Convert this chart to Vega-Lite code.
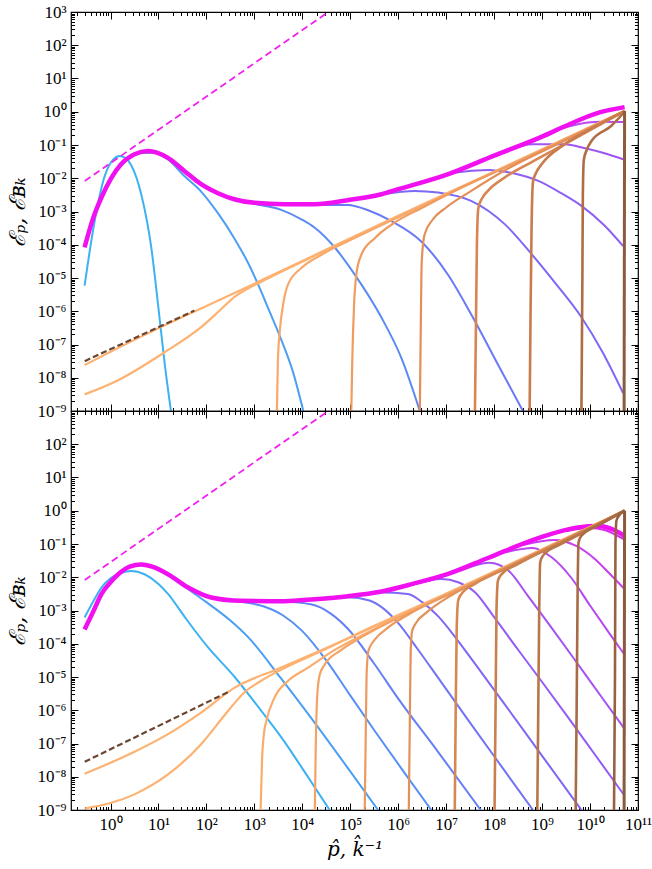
{
"$schema":"https://vega.github.io/schema/vega-lite/v6.json",
"padding":{"left":5,"top":2,"right":0,"bottom":0},
"config":{
 "view":{"stroke":"#000","strokeWidth":1.2},
 "axis":{"grid":false,"domain":false,"tickColor":"#000","tickWidth":1,"labelColor":"#000","labelFont":"Liberation Serif","labelFontSize":17,"titleColor":"#000","titleFontWeight":"normal","labelOverlap":false,"labelFlush":false,"labelBound":false,"tickCount":100}
},
"datasets":{
"top":[
{"s":"dmt","g":"dm","x":0.29,"y":0.0083},{"s":"dmt","g":"dm","x":34900,"y":1000},
{"s":"dbt","g":"db","x":0.29,"y":3.16e-8},{"s":"dbt","g":"db","x":56.2,"y":1.05e-6},
{"s":"c1","g":"b","x":0.288,"y":5.89e-6},{"s":"c1","g":"b","x":0.468,"y":5.25e-4},{"s":"c1","g":"b","x":0.741,"y":0.0105},{"s":"c1","g":"b","x":1.12,"y":0.0355},{"s":"c1","g":"b","x":1.55,"y":0.0468},{"s":"c1","g":"b","x":2.0,"y":0.0417},{"s":"c1","g":"b","x":2.69,"y":0.0251},{"s":"c1","g":"b","x":4.37,"y":3.31e-3},{"s":"c1","g":"b","x":7.08,"y":8.32e-5},{"s":"c1","g":"b","x":9.77,"y":1.66e-6},{"s":"c1","g":"b","x":13.5,"y":2.63e-8},{"s":"c1","g":"b","x":18.2,"y":1e-9},
{"s":"c2","g":"b","x":3.98,"y":0.0575},{"s":"c2","g":"b","x":7.94,"y":0.0589},{"s":"c2","g":"b","x":15.5,"y":0.0372},{"s":"c2","g":"b","x":34.7,"y":0.0117},{"s":"c2","g":"b","x":77.6,"y":3.98e-3},{"s":"c2","g":"b","x":174,"y":8.91e-4},{"s":"c2","g":"b","x":380,"y":1.58e-4},{"s":"c2","g":"b","x":741,"y":2.82e-5},{"s":"c2","g":"b","x":1202,"y":6.31e-6},{"s":"c2","g":"b","x":1995,"y":1.12e-6},{"s":"c2","g":"b","x":3631,"y":1.41e-7},{"s":"c2","g":"b","x":6310,"y":1.58e-8},{"s":"c2","g":"b","x":10500,"y":1e-9},
{"s":"c3","g":"b","x":251,"y":2.82e-3},{"s":"c3","g":"b","x":1000,"y":1.7e-3},{"s":"c3","g":"b","x":3631,"y":1.12e-3},{"s":"c3","g":"b","x":1e4,"y":5.62e-4},{"s":"c3","g":"b","x":18200,"y":3.24e-4},{"s":"c3","g":"b","x":47900,"y":8.13e-5},{"s":"c3","g":"b","x":123000,"y":1.29e-5},{"s":"c3","g":"b","x":447000,"y":6.46e-7},{"s":"c3","g":"b","x":1.15e6,"y":4.07e-8},{"s":"c3","g":"b","x":2.82e6,"y":1e-9},
{"s":"c4","g":"b","x":1e4,"y":1.58e-3},{"s":"c4","g":"b","x":89100,"y":1.58e-3},{"s":"c4","g":"b","x":251000,"y":1.05e-3},{"s":"c4","g":"b","x":724000,"y":5.13e-4},{"s":"c4","g":"b","x":3.02e6,"y":1.26e-4},{"s":"c4","g":"b","x":1.1e7,"y":1.23e-5},{"s":"c4","g":"b","x":3.31e7,"y":8.13e-7},{"s":"c4","g":"b","x":1.2e8,"y":2.51e-8},{"s":"c4","g":"b","x":3.98e8,"y":1e-9},
{"s":"c5","g":"b","x":501000,"y":3.31e-3},{"s":"c5","g":"b","x":2.19e6,"y":4.17e-3},{"s":"c5","g":"b","x":6.76e6,"y":3.72e-3},{"s":"c5","g":"b","x":3.31e7,"y":2.09e-3},{"s":"c5","g":"b","x":1.66e8,"y":4.17e-4},{"s":"c5","g":"b","x":6.03e8,"y":5.25e-5},{"s":"c5","g":"b","x":2e9,"y":6.31e-6},{"s":"c5","g":"b","x":6.61e9,"y":6.61e-7},{"s":"c5","g":"b","x":1.78e10,"y":6.31e-8},{"s":"c5","g":"b","x":4.9e10,"y":3.47e-9},
{"s":"c6","g":"b","x":6.31e6,"y":0.01},{"s":"c6","g":"b","x":1.58e7,"y":0.0148},{"s":"c6","g":"b","x":7.41e7,"y":0.0178},{"s":"c6","g":"b","x":2.51e8,"y":0.0141},{"s":"c6","g":"b","x":8.32e8,"y":8.32e-3},{"s":"c6","g":"b","x":2.51e9,"y":3.55e-3},{"s":"c6","g":"b","x":6.61e9,"y":1.48e-3},{"s":"c6","g":"b","x":2e10,"y":3.8e-4},{"s":"c6","g":"b","x":4.9e10,"y":9.12e-5},
{"s":"c7","g":"b","x":2e8,"y":0.0708},{"s":"c7","g":"b","x":6.31e8,"y":0.105},{"s":"c7","g":"b","x":2.95e9,"y":0.105},{"s":"c7","g":"b","x":7.94e9,"y":0.0794},{"s":"c7","g":"b","x":2e10,"y":0.0562},{"s":"c7","g":"b","x":4.9e10,"y":0.0372},
{"s":"c8","g":"b","x":2e9,"y":0.282},{"s":"c8","g":"b","x":6.31e9,"y":0.437},{"s":"c8","g":"b","x":1.58e10,"y":0.501},{"s":"c8","g":"b","x":4.9e10,"y":0.49},
{"s":"Mt","g":"m","x":0.288,"y":8.32e-5},{"s":"Mt","g":"m","x":0.427,"y":5.89e-4},{"s":"Mt","g":"m","x":0.646,"y":2.63e-3},{"s":"Mt","g":"m","x":1.66,"y":0.0263},{"s":"Mt","g":"m","x":3.16,"y":0.0525},{"s":"Mt","g":"m","x":6.03,"y":0.0661},{"s":"Mt","g":"m","x":15.5,"y":0.0417},{"s":"Mt","g":"m","x":34.7,"y":0.0166},{"s":"Mt","g":"m","x":77.6,"y":6.61e-3},{"s":"Mt","g":"m","x":174,"y":3.55e-3},{"s":"Mt","g":"m","x":380,"y":2.34e-3},{"s":"Mt","g":"m","x":1000,"y":1.82e-3},{"s":"Mt","g":"m","x":4266,"y":1.66e-3},{"s":"Mt","g":"m","x":18200,"y":1.66e-3},{"s":"Mt","g":"m","x":87100,"y":2.19e-3},{"s":"Mt","g":"m","x":447000,"y":3.31e-3},{"s":"Mt","g":"m","x":1e6,"y":4.68e-3},{"s":"Mt","g":"m","x":1e7,"y":0.0126},{"s":"Mt","g":"m","x":1e8,"y":0.0479},{"s":"Mt","g":"m","x":1e9,"y":0.178},{"s":"Mt","g":"m","x":3.16e9,"y":0.38},{"s":"Mt","g":"m","x":1.58e10,"y":0.955},{"s":"Mt","g":"m","x":5.25e10,"y":1.38},
{"s":"o0","g":"o","x":0.288,"y":2.4e-8},{"s":"o0","g":"o","x":1,"y":6.03e-8},{"s":"o0","g":"o","x":11.5,"y":3.39e-7},{"s":"o0","g":"o","x":100,"y":1.45e-6},{"s":"o0","g":"o","x":1000,"y":6.76e-6},{"s":"o0","g":"o","x":1e4,"y":3.24e-5},{"s":"o0","g":"o","x":1e5,"y":1.58e-4},{"s":"o0","g":"o","x":1e6,"y":7.41e-4},{"s":"o0","g":"o","x":1e7,"y":3.47e-3},{"s":"o0","g":"o","x":1e8,"y":0.0158},{"s":"o0","g":"o","x":1e9,"y":0.0741},{"s":"o0","g":"o","x":1e10,"y":0.347},{"s":"o0","g":"o","x":5.25e10,"y":1.05},
{"s":"o1","g":"o","x":0.288,"y":3.16e-9},{"s":"o1","g":"o","x":1.41,"y":8.32e-9},{"s":"o1","g":"o","x":13.5,"y":5.89e-8},{"s":"o1","g":"o","x":77.6,"y":3.31e-7},{"s":"o1","g":"o","x":204,"y":1.17e-6},{"s":"o1","g":"o","x":398,"y":2.82e-6},{"s":"o1","g":"o","x":708,"y":4.68e-6},{"s":"o1","g":"o","x":1995,"y":1e-5},{"s":"o1","g":"o","x":1e5,"y":1.48e-4},{"s":"o1","g":"o","x":1e7,"y":3.31e-3},{"s":"o1","g":"o","x":1e9,"y":0.0708},{"s":"o1","g":"o","x":5.25e10,"y":1.05},
{"s":"o2","g":"o","x":2951,"y":1e-9},{"s":"o2","g":"o","x":3090,"y":3.16e-8},{"s":"o2","g":"o","x":3388,"y":2.51e-7},{"s":"o2","g":"o","x":3981,"y":1.62e-6},{"s":"o2","g":"o","x":5012,"y":6.31e-6},{"s":"o2","g":"o","x":9550,"y":2e-5},{"s":"o2","g":"o","x":25100,"y":5.01e-5},{"s":"o2","g":"o","x":1e5,"y":1.38e-4},{"s":"o2","g":"o","x":1e6,"y":6.76e-4},{"s":"o2","g":"o","x":3.16e7,"y":7.08e-3},{"s":"o2","g":"o","x":1e9,"y":0.0708},{"s":"o2","g":"o","x":5.25e10,"y":1.05},
{"s":"o3","g":"o","x":105000,"y":1e-9},{"s":"o3","g":"o","x":110000,"y":3.16e-8},{"s":"o3","g":"o","x":120000,"y":1.58e-6},{"s":"o3","g":"o","x":135000,"y":1.41e-5},{"s":"o3","g":"o","x":170000,"y":5.01e-5},{"s":"o3","g":"o","x":324000,"y":1.58e-4},{"s":"o3","g":"o","x":851000,"y":4.68e-4},{"s":"o3","g":"o","x":3.02e6,"y":1.26e-3},{"s":"o3","g":"o","x":1.58e7,"y":4.27e-3},{"s":"o3","g":"o","x":3.16e8,"y":0.0316},{"s":"o3","g":"o","x":5.25e10,"y":1.05},
{"s":"o4","g":"o","x":2.82e6,"y":1e-9},{"s":"o4","g":"o","x":2.95e6,"y":3.16e-7},{"s":"o4","g":"o","x":3.09e6,"y":3.16e-5},{"s":"o4","g":"o","x":3.55e6,"y":2.04e-4},{"s":"o4","g":"o","x":5.25e6,"y":5.75e-4},{"s":"o4","g":"o","x":1e7,"y":1.32e-3},{"s":"o4","g":"o","x":3.16e7,"y":3.98e-3},{"s":"o4","g":"o","x":2e8,"y":0.02},{"s":"o4","g":"o","x":3.16e9,"y":0.141},{"s":"o4","g":"o","x":5.25e10,"y":1.05},
{"s":"o5","g":"od","x":3.98e7,"y":1e-9},{"s":"o5","g":"od","x":4.17e7,"y":3.16e-7},{"s":"o5","g":"od","x":4.37e7,"y":1e-4},{"s":"o5","g":"od","x":4.68e7,"y":1.26e-3},{"s":"o5","g":"od","x":5.62e7,"y":2.51e-3},{"s":"o5","g":"od","x":7.41e7,"y":4.17e-3},{"s":"o5","g":"od","x":1.66e8,"y":0.0105},{"s":"o5","g":"od","x":6.31e8,"y":0.0316},{"s":"o5","g":"od","x":3.16e9,"y":0.112},{"s":"o5","g":"od","x":5.25e10,"y":1.05},
{"s":"o6","g":"od","x":5.5e8,"y":1e-9},{"s":"o6","g":"od","x":5.75e8,"y":1e-6},{"s":"o6","g":"od","x":6.03e8,"y":3.16e-4},{"s":"o6","g":"od","x":6.46e8,"y":7.94e-3},{"s":"o6","g":"od","x":7.41e8,"y":0.0141},{"s":"o6","g":"od","x":9.77e8,"y":0.0263},{"s":"o6","g":"od","x":2.95e9,"y":0.105},{"s":"o6","g":"od","x":1.26e10,"y":0.355},{"s":"o6","g":"od","x":5.25e10,"y":1.05},
{"s":"o7","g":"od","x":6.61e9,"y":1e-9},{"s":"o7","g":"od","x":6.92e9,"y":1e-5},{"s":"o7","g":"od","x":7.08e9,"y":3.16e-3},{"s":"o7","g":"od","x":7.41e9,"y":0.0355},{"s":"o7","g":"od","x":8.51e9,"y":0.0708},{"s":"o7","g":"od","x":1.07e10,"y":0.132},{"s":"o7","g":"od","x":2.75e10,"y":0.372},{"s":"o7","g":"od","x":5.25e10,"y":1.0},
{"s":"o8","g":"of","x":5.13e10,"y":1e-9},{"s":"o8","g":"of","x":5.25e10,"y":1.05}
],
"bot":[
{"s":"dmb","g":"dm","x":0.29,"y":0.0083},{"s":"dmb","g":"dm","x":34900,"y":1000},
{"s":"dbb","g":"db","x":0.29,"y":2.82e-8},{"s":"dbb","g":"db","x":316,"y":3.8e-6},
{"s":"b1","g":"b","x":0.288,"y":6.17e-4},{"s":"b1","g":"b","x":0.447,"y":2e-3},{"s":"b1","g":"b","x":0.646,"y":4.9e-3},{"s":"b1","g":"b","x":1,"y":9.33e-3},{"s":"b1","g":"b","x":1.45,"y":0.0126},{"s":"b1","g":"b","x":2.69,"y":0.0155},{"s":"b1","g":"b","x":5.13,"y":0.0123},{"s":"b1","g":"b","x":10,"y":6.31e-3},{"s":"b1","g":"b","x":15.8,"y":3.16e-3},{"s":"b1","g":"b","x":35.5,"y":6.31e-4},{"s":"b1","g":"b","x":100,"y":8.91e-5},{"s":"b1","g":"b","x":389,"y":1e-5},{"s":"b1","g":"b","x":1000,"y":1.78e-6},{"s":"b1","g":"b","x":4266,"y":1.12e-7},{"s":"b1","g":"b","x":1e4,"y":1.78e-8},{"s":"b1","g":"b","x":37200,"y":1e-9},
{"s":"b2","g":"b","x":7.94,"y":0.0191},{"s":"b2","g":"b","x":15.8,"y":0.0115},{"s":"b2","g":"b","x":41.7,"y":4.37e-3},{"s":"b2","g":"b","x":100,"y":1.78e-3},{"s":"b2","g":"b","x":316,"y":5.01e-4},{"s":"b2","g":"b","x":741,"y":1.58e-4},{"s":"b2","g":"b","x":3631,"y":8.91e-6},{"s":"b2","g":"b","x":18200,"y":4.17e-7},{"s":"b2","g":"b","x":89100,"y":1.82e-8},{"s":"b2","g":"b","x":380000,"y":1e-9},
{"s":"b3","g":"b","x":100,"y":2.63e-3},{"s":"b3","g":"b","x":537,"y":1.82e-3},{"s":"b3","g":"b","x":1585,"y":1.32e-3},{"s":"b3","g":"b","x":3981,"y":7.08e-4},{"s":"b3","g":"b","x":1e4,"y":2.4e-4},{"s":"b3","g":"b","x":31600,"y":3.16e-5},{"s":"b3","g":"b","x":89100,"y":3.55e-6},{"s":"b3","g":"b","x":316000,"y":2.51e-7},{"s":"b3","g":"b","x":1.26e6,"y":1.51e-8},{"s":"b3","g":"b","x":4.9e6,"y":1e-9},
{"s":"b4","g":"b","x":1000,"y":1.86e-3},{"s":"b4","g":"b","x":4266,"y":1.82e-3},{"s":"b4","g":"b","x":15800,"y":1.51e-3},{"s":"b4","g":"b","x":39800,"y":7.94e-4},{"s":"b4","g":"b","x":89100,"y":2.82e-4},{"s":"b4","g":"b","x":316000,"y":2.51e-5},{"s":"b4","g":"b","x":1e6,"y":2.24e-6},{"s":"b4","g":"b","x":6.76e6,"y":5.62e-8},{"s":"b4","g":"b","x":5.25e7,"y":1e-9},
{"s":"b5","g":"b","x":1e4,"y":2.04e-3},{"s":"b5","g":"b","x":89100,"y":2.51e-3},{"s":"b5","g":"b","x":251000,"y":2e-3},{"s":"b5","g":"b","x":501000,"y":1.12e-3},{"s":"b5","g":"b","x":1e6,"y":4.17e-4},{"s":"b5","g":"b","x":2.51e6,"y":7.08e-5},{"s":"b5","g":"b","x":6.76e6,"y":9.55e-6},{"s":"b5","g":"b","x":3.16e7,"y":4.17e-7},{"s":"b5","g":"b","x":1.58e8,"y":1.66e-8},{"s":"b5","g":"b","x":6.46e8,"y":1e-9},
{"s":"b6","g":"b","x":1e5,"y":2.51e-3},{"s":"b6","g":"b","x":447000,"y":3.47e-3},{"s":"b6","g":"b","x":1.58e6,"y":3.16e-3},{"s":"b6","g":"b","x":3.16e6,"y":1.78e-3},{"s":"b6","g":"b","x":6.76e6,"y":6.76e-4},{"s":"b6","g":"b","x":1.58e7,"y":1.51e-4},{"s":"b6","g":"b","x":3.98e7,"y":2.51e-5},{"s":"b6","g":"b","x":1.58e8,"y":1.66e-6},{"s":"b6","g":"b","x":1e9,"y":4.27e-8},{"s":"b6","g":"b","x":6.61e9,"y":1e-9},
{"s":"b7","g":"b","x":2e6,"y":6.03e-3},{"s":"b7","g":"b","x":7.94e6,"y":8.91e-3},{"s":"b7","g":"b","x":1.78e7,"y":7.08e-3},{"s":"b7","g":"b","x":3.98e7,"y":3.55e-3},{"s":"b7","g":"b","x":1e8,"y":6.31e-4},{"s":"b7","g":"b","x":3.16e8,"y":6.61e-5},{"s":"b7","g":"b","x":1e9,"y":7.08e-6},{"s":"b7","g":"b","x":3.16e9,"y":7.41e-7},{"s":"b7","g":"b","x":1.26e10,"y":4.68e-8},{"s":"b7","g":"b","x":5.25e10,"y":2.69e-9},
{"s":"b8","g":"b","x":2e7,"y":0.0158},{"s":"b8","g":"b","x":7.94e7,"y":0.0275},{"s":"b8","g":"b","x":2e8,"y":0.0158},{"s":"b8","g":"b","x":5.01e8,"y":2.82e-3},{"s":"b8","g":"b","x":1.58e9,"y":3.02e-4},{"s":"b8","g":"b","x":5.01e9,"y":3.02e-5},{"s":"b8","g":"b","x":1.58e10,"y":3.02e-6},{"s":"b8","g":"b","x":5.25e10,"y":2.75e-7},
{"s":"b9","g":"b","x":1.58e8,"y":0.055},{"s":"b9","g":"b","x":6.31e8,"y":0.0759},{"s":"b9","g":"b","x":1.58e9,"y":0.0398},{"s":"b9","g":"b","x":3.98e9,"y":0.01},{"s":"b9","g":"b","x":1e10,"y":1.41e-3},{"s":"b9","g":"b","x":2.51e10,"y":2.09e-4},{"s":"b9","g":"b","x":5.25e10,"y":4.68e-5},
{"s":"b10","g":"b","x":3.98e8,"y":0.0933},{"s":"b10","g":"b","x":1.82e9,"y":0.132},{"s":"b10","g":"b","x":5.01e9,"y":0.0891},{"s":"b10","g":"b","x":1.26e10,"y":0.0355},{"s":"b10","g":"b","x":2.51e10,"y":0.0132},{"s":"b10","g":"b","x":5.25e10,"y":4.37e-3},
{"s":"b11","g":"b","x":3.16e9,"y":0.24},{"s":"b11","g":"b","x":1e10,"y":0.302},{"s":"b11","g":"b","x":2e10,"y":0.263},{"s":"b11","g":"b","x":3.16e10,"y":0.2},{"s":"b11","g":"b","x":5.25e10,"y":0.135},
{"s":"Mb","g":"m","x":0.288,"y":2.69e-4},{"s":"Mb","g":"m","x":0.447,"y":1e-3},{"s":"Mb","g":"m","x":0.646,"y":3.09e-3},{"s":"Mb","g":"m","x":1,"y":7.08e-3},{"s":"Mb","g":"m","x":1.45,"y":0.0123},{"s":"Mb","g":"m","x":2.51,"y":0.0209},{"s":"Mb","g":"m","x":4.37,"y":0.024},{"s":"Mb","g":"m","x":7.94,"y":0.02},{"s":"Mb","g":"m","x":15.8,"y":0.0123},{"s":"Mb","g":"m","x":41.7,"y":4.9e-3},{"s":"Mb","g":"m","x":126,"y":2.45e-3},{"s":"Mb","g":"m","x":537,"y":1.95e-3},{"s":"Mb","g":"m","x":4266,"y":1.91e-3},{"s":"Mb","g":"m","x":18200,"y":2.19e-3},{"s":"Mb","g":"m","x":89100,"y":2.69e-3},{"s":"Mb","g":"m","x":447000,"y":3.72e-3},{"s":"Mb","g":"m","x":2e6,"y":6.31e-3},{"s":"Mb","g":"m","x":1.1e7,"y":0.0126},{"s":"Mb","g":"m","x":7.41e7,"y":0.038},{"s":"Mb","g":"m","x":8.32e8,"y":0.151},{"s":"Mb","g":"m","x":5.62e9,"y":0.316},{"s":"Mb","g":"m","x":1.48e10,"y":0.347},{"s":"Mb","g":"m","x":3.16e10,"y":0.263},{"s":"Mb","g":"m","x":5.25e10,"y":0.174},
{"s":"p0","g":"o","x":0.288,"y":1.23e-8},{"s":"p0","g":"o","x":3.16,"y":5.62e-8},{"s":"p0","g":"o","x":15.8,"y":1.91e-7},{"s":"p0","g":"o","x":77.6,"y":8.5e-7},{"s":"p0","g":"o","x":389,"y":4.79e-6},{"s":"p0","g":"o","x":3162,"y":1.78e-5},{"s":"p0","g":"o","x":31600,"y":7.41e-5},{"s":"p0","g":"o","x":316000,"y":3.47e-4},{"s":"p0","g":"o","x":6.76e6,"y":2.51e-3},{"s":"p0","g":"o","x":1e8,"y":0.0148},{"s":"p0","g":"o","x":1e9,"y":0.0676},{"s":"p0","g":"o","x":1e10,"y":0.316},{"s":"p0","g":"o","x":5.25e10,"y":1.0},
{"s":"p1","g":"o","x":0.288,"y":1.1e-9},{"s":"p1","g":"o","x":3.16,"y":2.95e-9},{"s":"p1","g":"o","x":15.8,"y":1.17e-8},{"s":"p1","g":"o","x":77.6,"y":9.55e-8},{"s":"p1","g":"o","x":282,"y":9.55e-7},{"s":"p1","g":"o","x":631,"y":3.55e-6},{"s":"p1","g":"o","x":1259,"y":7.08e-6},{"s":"p1","g":"o","x":31600,"y":7.08e-5},{"s":"p1","g":"o","x":1e7,"y":3.09e-3},{"s":"p1","g":"o","x":5.25e10,"y":1.0},
{"s":"p2","g":"o","x":1349,"y":1e-9},{"s":"p2","g":"o","x":1445,"y":3.16e-8},{"s":"p2","g":"o","x":1585,"y":2e-7},{"s":"p2","g":"o","x":1778,"y":4.79e-7},{"s":"p2","g":"o","x":2630,"y":2.4e-6},{"s":"p2","g":"o","x":5012,"y":7.59e-6},{"s":"p2","g":"o","x":13200,"y":1.91e-5},{"s":"p2","g":"o","x":39800,"y":5.62e-5},{"s":"p2","g":"o","x":316000,"y":2.75e-4},{"s":"p2","g":"o","x":3.16e7,"y":6.31e-3},{"s":"p2","g":"o","x":5.25e10,"y":1.0},
{"s":"p3","g":"o","x":18200,"y":1e-9},{"s":"p3","g":"o","x":19100,"y":1e-7},{"s":"p3","g":"o","x":20400,"y":2.51e-6},{"s":"p3","g":"o","x":22900,"y":1.12e-5},{"s":"p3","g":"o","x":29500,"y":2.4e-5},{"s":"p3","g":"o","x":63100,"y":6.31e-5},{"s":"p3","g":"o","x":200000,"y":1.78e-4},{"s":"p3","g":"o","x":1.58e6,"y":8.32e-4},{"s":"p3","g":"o","x":1e8,"y":0.0138},{"s":"p3","g":"o","x":5.25e10,"y":1.0},
{"s":"p4","g":"o","x":200000,"y":1e-9},{"s":"p4","g":"o","x":209000,"y":1e-7},{"s":"p4","g":"o","x":219000,"y":1.26e-5},{"s":"p4","g":"o","x":240000,"y":6.31e-5},{"s":"p4","g":"o","x":324000,"y":1.32e-4},{"s":"p4","g":"o","x":631000,"y":3.16e-4},{"s":"p4","g":"o","x":2e6,"y":8.91e-4},{"s":"p4","g":"o","x":1.58e7,"y":3.8e-3},{"s":"p4","g":"o","x":1e9,"y":0.0646},{"s":"p4","g":"o","x":5.25e10,"y":1.0},
{"s":"p5","g":"o","x":1.66e6,"y":1e-9},{"s":"p5","g":"o","x":1.74e6,"y":3.16e-7},{"s":"p5","g":"o","x":1.82e6,"y":6.31e-5},{"s":"p5","g":"o","x":1.95e6,"y":2.4e-4},{"s":"p5","g":"o","x":2.29e6,"y":3.98e-4},{"s":"p5","g":"o","x":3.98e6,"y":8.91e-4},{"s":"p5","g":"o","x":1.26e7,"y":2.82e-3},{"s":"p5","g":"o","x":1e8,"y":0.0126},{"s":"p5","g":"o","x":3.16e9,"y":0.138},{"s":"p5","g":"o","x":5.25e10,"y":1.0},
{"s":"p6","g":"od","x":1.51e7,"y":1e-9},{"s":"p6","g":"od","x":1.58e7,"y":1e-6},{"s":"p6","g":"od","x":1.66e7,"y":3.16e-4},{"s":"p6","g":"od","x":1.78e7,"y":2e-3},{"s":"p6","g":"od","x":2.09e7,"y":3.16e-3},{"s":"p6","g":"od","x":3.98e7,"y":6.31e-3},{"s":"p6","g":"od","x":2e8,"y":0.02},{"s":"p6","g":"od","x":3.16e9,"y":0.135},{"s":"p6","g":"od","x":5.25e10,"y":1.0},
{"s":"p7","g":"od","x":1.02e8,"y":1e-9},{"s":"p7","g":"od","x":1.07e8,"y":1e-6},{"s":"p7","g":"od","x":1.12e8,"y":1e-3},{"s":"p7","g":"od","x":1.2e8,"y":7.94e-3},{"s":"p7","g":"od","x":1.41e8,"y":0.012},{"s":"p7","g":"od","x":3.16e8,"y":0.0251},{"s":"p7","g":"od","x":2e9,"y":0.0955},{"s":"p7","g":"od","x":5.25e10,"y":1.0},
{"s":"p8","g":"od","x":7.94e8,"y":1e-9},{"s":"p8","g":"od","x":8.32e8,"y":1e-6},{"s":"p8","g":"od","x":8.71e8,"y":1e-3},{"s":"p8","g":"od","x":9.12e8,"y":0.0282},{"s":"p8","g":"od","x":1.07e9,"y":0.0468},{"s":"p8","g":"od","x":2.51e9,"y":0.1},{"s":"p8","g":"od","x":1e10,"y":0.282},{"s":"p8","g":"od","x":5.25e10,"y":1.0},
{"s":"p9","g":"od","x":5.01e9,"y":1e-9},{"s":"p9","g":"od","x":5.25e9,"y":1e-6},{"s":"p9","g":"od","x":5.5e9,"y":3.16e-3},{"s":"p9","g":"od","x":5.75e9,"y":0.112},{"s":"p9","g":"od","x":6.61e9,"y":0.178},{"s":"p9","g":"od","x":1.58e10,"y":0.38},{"s":"p9","g":"od","x":5.25e10,"y":1.0},
{"s":"p10","g":"od","x":3.16e10,"y":1e-9},{"s":"p10","g":"od","x":3.31e10,"y":1e-5},{"s":"p10","g":"od","x":3.39e10,"y":0.1},{"s":"p10","g":"od","x":3.55e10,"y":0.501},{"s":"p10","g":"od","x":3.98e10,"y":0.708},{"s":"p10","g":"od","x":5.25e10,"y":1.0},
{"s":"p11","g":"of","x":5.13e10,"y":1e-9},{"s":"p11","g":"of","x":5.25e10,"y":1.0}
]
},
"spacing":0,
"bounds":"flush",
"resolve":{"scale":{"color":"independent"}},
"vconcat":[
{
 "width":567,"height":399,
 "data":{"name":"top"},
 "layer":[
  {
   "encoding":{
    "x":{"field":"x","type":"quantitative","scale":{"type":"log","domain":[0.15,1e11],"nice":false},
         "axis":{"orient":"bottom","labels":false,"title":null,"tickSize":{"condition":{"test":"abs(log(datum.value)/LN10-round(log(datum.value)/LN10))<0.01","value":-7},"value":-3.5}}},
    "y":{"field":"y","type":"quantitative","scale":{"type":"log","domain":[1e-9,1e3],"nice":false},
         "axis":{"orient":"left","tickSize":{"condition":{"test":"abs(log(datum.value)/LN10-round(log(datum.value)/LN10))<0.01","value":-7},"value":-3.5},
                 "labelExpr":"abs(log(datum.value)/LN10-round(log(datum.value)/LN10))<0.01 ? '10'+replace(replace(replace(replace(replace(replace(replace(replace(replace(replace(replace(''+round(log(datum.value)/LN10),'-','⁻'),regexp('1','g'),'¹'),'0','⁰'),'2','²'),'3','³'),'4','⁴'),'5','⁵'),'6','⁶'),'7','⁷'),'8','⁸'),'9','⁹') : ''",
                 "labelPadding":12,"title":"ℰₚ,  ℰʙₖ","titleFont":"DejaVu Serif","titleFontStyle":"italic","titleFontSize":22,"titlePadding":8}},
    "color":{"field":"s","type":"nominal","legend":null,"scale":{
      "domain":["c1","c2","c3","c4","c5","c6","c7","c8","Mt","o0","o1","o2","o3","o4","o5","o6","o7","o8","dmt","dbt"],
      "range":["#3db2f2","#4d9ff2","#5a8bf4","#6a79f5","#7a6af5","#8d5ff5","#9f55f2","#b84ef0","#f010f0","#fdb272","#fdb272","#f8a86a","#ef9c60","#e48f58","#d88552","#c87b4c","#b06d45","#8c5a3c","#f020f0","#6b4632"]}}
   },
   "layer":[
    {"transform":[{"filter":"datum.g=='b'"}],"mark":{"type":"line","strokeWidth":2,"interpolate":"monotone","clip":true},"encoding":{}},
    {"transform":[{"filter":"datum.g=='m'"}],"mark":{"type":"line","strokeWidth":4.5,"interpolate":"monotone","clip":true},"encoding":{}},
    {"transform":[{"filter":"datum.g=='o'"}],"mark":{"type":"line","strokeWidth":2.2,"interpolate":"monotone","clip":true},"encoding":{}},
    {"transform":[{"filter":"datum.g=='od'"}],"mark":{"type":"line","strokeWidth":2.6,"interpolate":"monotone","clip":true},"encoding":{}},
    {"transform":[{"filter":"datum.g=='of'"}],"mark":{"type":"line","strokeWidth":3,"clip":true},"encoding":{}},
    {"transform":[{"filter":"datum.g=='dm'"}],"mark":{"type":"line","strokeWidth":1.8,"strokeDash":[7,4],"clip":true},"encoding":{}},
    {"transform":[{"filter":"datum.g=='db'"}],"mark":{"type":"line","strokeWidth":2.2,"strokeDash":[6,3],"clip":true},"encoding":{}}
   ]
  },
  {
   "mark":{"type":"point","opacity":0},
   "encoding":{
    "x":{"field":"x","type":"quantitative","scale":{"type":"log","domain":[0.15,1e11],"nice":false},
         "axis":{"orient":"top","labels":false,"title":null,"tickSize":{"condition":{"test":"abs(log(datum.value)/LN10-round(log(datum.value)/LN10))<0.01","value":-7},"value":-3.5}}},
    "y":{"field":"y","type":"quantitative","scale":{"type":"log","domain":[1e-9,1e3],"nice":false},
         "axis":{"orient":"right","labels":false,"title":null,"tickSize":{"condition":{"test":"abs(log(datum.value)/LN10-round(log(datum.value)/LN10))<0.01","value":-7},"value":-3.5}}}
   }
  }
 ],
 "resolve":{"axis":{"x":"independent","y":"independent"}}
},
{
 "width":567,"height":399,
 "data":{"name":"bot"},
 "layer":[
  {
   "encoding":{
    "x":{"field":"x","type":"quantitative","scale":{"type":"log","domain":[0.15,1e11],"nice":false},
         "axis":{"orient":"bottom","tickSize":{"condition":{"test":"abs(log(datum.value)/LN10-round(log(datum.value)/LN10))<0.01","value":-7},"value":-3.5},
                 "labelExpr":"abs(log(datum.value)/LN10-round(log(datum.value)/LN10))<0.01 ? '10'+replace(replace(replace(replace(replace(replace(replace(replace(replace(replace(replace(''+round(log(datum.value)/LN10),'-','⁻'),regexp('1','g'),'¹'),'0','⁰'),'2','²'),'3','³'),'4','⁴'),'5','⁵'),'6','⁶'),'7','⁷'),'8','⁸'),'9','⁹') : ''",
                 "labelPadding":13,"title":"p̂,  k̂⁻¹","titleFont":"DejaVu Serif","titleFontStyle":"italic","titleFontSize":20,"titlePadding":4}},
    "y":{"field":"y","type":"quantitative","scale":{"type":"log","domain":[1e-9,1e3],"nice":false},
         "axis":{"orient":"left","tickSize":{"condition":{"test":"abs(log(datum.value)/LN10-round(log(datum.value)/LN10))<0.01","value":-7},"value":-3.5},
                 "labelExpr":"datum.value<500 && abs(log(datum.value)/LN10-round(log(datum.value)/LN10))<0.01 ? '10'+replace(replace(replace(replace(replace(replace(replace(replace(replace(replace(replace(''+round(log(datum.value)/LN10),'-','⁻'),regexp('1','g'),'¹'),'0','⁰'),'2','²'),'3','³'),'4','⁴'),'5','⁵'),'6','⁶'),'7','⁷'),'8','⁸'),'9','⁹') : ''",
                 "labelPadding":12,"title":"ℰₚ,  ℰʙₖ","titleFont":"DejaVu Serif","titleFontStyle":"italic","titleFontSize":22,"titlePadding":8}},
    "color":{"field":"s","type":"nominal","legend":null,"scale":{
      "domain":["b1","b2","b3","b4","b5","b6","b7","b8","b9","b10","b11","Mb","p0","p1","p2","p3","p4","p5","p6","p7","p8","p9","p10","p11","dmb","dbb"],
      "range":["#3db2f2","#4a9ff3","#5790f4","#6580f5","#7272f5","#8066f5","#925cf5","#a452f3","#b648f1","#c83ef0","#da30ee","#f010f0","#fdb272","#fdb272","#faac6c","#f4a365","#ec9a5e","#e29158","#d68852","#c9804e","#b9764a","#a86b45","#986240","#8b5a3c","#f020f0","#6b4632"]}}
   },
   "layer":[
    {"transform":[{"filter":"datum.g=='b'"}],"mark":{"type":"line","strokeWidth":2,"interpolate":"monotone","clip":true},"encoding":{}},
    {"transform":[{"filter":"datum.g=='m'"}],"mark":{"type":"line","strokeWidth":4.5,"interpolate":"monotone","clip":true},"encoding":{}},
    {"transform":[{"filter":"datum.g=='o'"}],"mark":{"type":"line","strokeWidth":2.2,"interpolate":"monotone","clip":true},"encoding":{}},
    {"transform":[{"filter":"datum.g=='od'"}],"mark":{"type":"line","strokeWidth":2.6,"interpolate":"monotone","clip":true},"encoding":{}},
    {"transform":[{"filter":"datum.g=='of'"}],"mark":{"type":"line","strokeWidth":3,"clip":true},"encoding":{}},
    {"transform":[{"filter":"datum.g=='dm'"}],"mark":{"type":"line","strokeWidth":1.8,"strokeDash":[7,4],"clip":true},"encoding":{}},
    {"transform":[{"filter":"datum.g=='db'"}],"mark":{"type":"line","strokeWidth":2.2,"strokeDash":[6,3],"clip":true},"encoding":{}}
   ]
  },
  {
   "mark":{"type":"point","opacity":0},
   "encoding":{
    "x":{"field":"x","type":"quantitative","scale":{"type":"log","domain":[0.15,1e11],"nice":false},
         "axis":{"orient":"top","labels":false,"title":null,"tickSize":{"condition":{"test":"abs(log(datum.value)/LN10-round(log(datum.value)/LN10))<0.01","value":-7},"value":-3.5}}},
    "y":{"field":"y","type":"quantitative","scale":{"type":"log","domain":[1e-9,1e3],"nice":false},
         "axis":{"orient":"right","labels":false,"title":null,"tickSize":{"condition":{"test":"abs(log(datum.value)/LN10-round(log(datum.value)/LN10))<0.01","value":-7},"value":-3.5}}}
   }
  }
 ],
 "resolve":{"axis":{"x":"independent","y":"independent"}}
}
]
}
